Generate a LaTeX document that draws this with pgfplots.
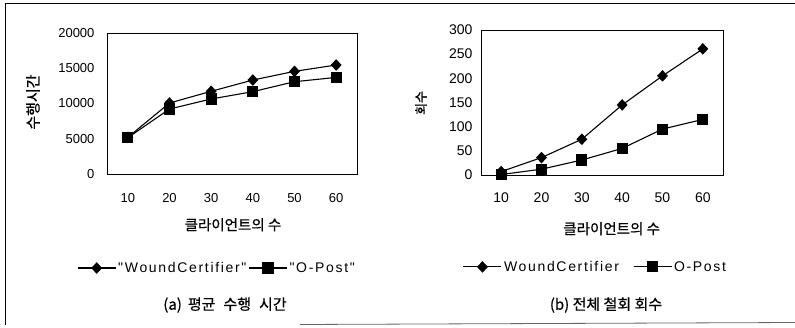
\documentclass[border=0pt]{standalone}
\usepackage{pgfplots}
\pgfplotsset{compat=1.18}
\usepackage{fontspec}
\setmainfont{Liberation Sans}
\newfontfamily\kr{Noto Sans CJK KR}[FakeBold=0.6]
\newfontfamily\leg{Liberation Sans}[LetterSpace=12]
\begin{document}
\begin{tikzpicture}
\useasboundingbox (0pt,0pt) rectangle (795pt,327pt);
\draw[line width=1pt] (5pt,323pt) -- (795pt,323pt);
\draw[line width=1pt] (5pt,323pt) -- (5pt,2pt);
\draw[line width=0.8pt, black!60] (300pt,2.5pt) -- (795pt,4.5pt);
\pgfplotsset{
  common/.style={
    scale only axis,
    axis line style={line width=0.8pt},
    major tick length=0pt,
    xmin=-0.5, xmax=5.5, xtick={0,...,5}, xticklabels={10,20,30,40,50,60},
    scaled y ticks=false,
    /pgf/number format/assume math mode=true,
    /pgf/number format/1000 sep={},
    legend columns=2,
    legend cell align=left,
    legend style={draw=none, fill=none, font=\fontsize{14}{16}\leg,
      nodes={inner sep=2pt}},
    legend image code/.code={\draw[mark repeat=2,mark phase=2,##1] plot coordinates {(0pt,0pt) (19pt,0pt) (38pt,0pt)};},
    xlabel style={font=\fontsize{14.5}{16}\kr, anchor=center},
    ylabel style={anchor=center},
  }
}
\begin{axis}[common,
  at={(107pt,153pt)}, anchor=south west, width=250pt, height=141pt,
  ymin=0, ymax=20000, ytick={0,5000,10000,15000,20000},
  ticklabel style={font=\fontsize{13}{15}\selectfont},
  xticklabel style={yshift=-16pt},
  yticklabel style={xshift=-9pt},
  xlabel={클라이언트의 수},
  xlabel style={at={(axis description cs:0.504,-0.36)}},
  ylabel={수행시간},
  ylabel style={font=\fontsize{15}{16}\kr, at={(axis description cs:-0.296,0.51)}},
  legend style={at={(axis description cs:0.44,-0.667)}, anchor=center,
    /tikz/every even column/.append style={column sep=0pt}},
]
\addplot[black, line width=1.1pt, mark=diamond*, mark size=5pt, mark options={fill=black, xscale=1.25}] coordinates {(0,5200) (1,10070) (2,11730) (3,13330) (4,14560) (5,15460)};
\addlegendentry{"WoundCertifier"}
\addplot[black, line width=1.1pt, mark=square*, mark size=5pt, mark options={fill=black}] coordinates {(0,5150) (1,9220) (2,10640) (3,11680) (4,13090) (5,13700)};
\addlegendentry{"O-Post"}
\end{axis}
\begin{axis}[common,
  at={(481pt,152pt)}, anchor=south west, width=242pt, height=145pt,
  ymin=0, ymax=300, ytick={0,50,...,300},
  ticklabel style={font=\fontsize{14}{16}\selectfont},
  xticklabel style={yshift=-14pt},
  yticklabel style={xshift=-5pt},
  xlabel={클라이언트의 수},
  xlabel style={at={(axis description cs:0.54,-0.37)}},
  ylabel={회수},
  ylabel style={font=\fontsize{13}{14}\kr, at={(axis description cs:-0.248,0.497)}},
  legend style={at={(axis description cs:0.473,-0.634)}, anchor=center,
    /tikz/every even column/.append style={column sep=12pt}},
]
\addplot[black, line width=1.1pt, mark=diamond*, mark size=5pt, mark options={fill=black, xscale=1.25}] coordinates {(0,7) (1,36) (2,74) (3,145) (4,205) (5,261)};
\addlegendentry{WoundCertifier}
\addplot[black, line width=1.1pt, mark=square*, mark size=5pt, mark options={fill=black}] coordinates {(0,1) (1,12) (2,31) (3,55) (4,95) (5,115)};
\addlegendentry{O-Post}
\end{axis}
\node[font=\fontsize{15}{17}\kr] at (225pt,22pt) {(a)\hspace{6pt}평균\hspace{8pt}수행\hspace{8pt}시간};
\node[font=\fontsize{15}{17}\kr] at (606pt,22pt) {(b) 전체 철회 회수};
\end{tikzpicture}
\end{document}
